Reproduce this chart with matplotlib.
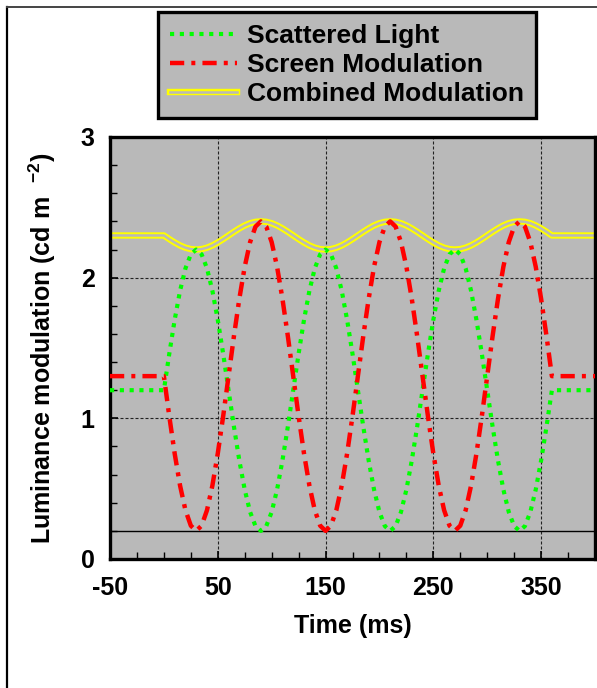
import matplotlib
matplotlib.use('Agg')
import matplotlib.pyplot as plt
import matplotlib.patheffects as pe
from matplotlib.lines import Line2D
from matplotlib.ticker import MultipleLocator

plt.rcParams['font.family'] = ['Liberation Sans', 'DejaVu Sans']
plt.rcParams['font.weight'] = 'bold'
plt.rcParams['axes.unicode_minus'] = False
plt.rcParams['mathtext.fontset'] = 'custom'
plt.rcParams['mathtext.rm'] = 'Liberation Sans:bold'
plt.rcParams['mathtext.bf'] = 'Liberation Sans:bold'
plt.rcParams['mathtext.default'] = 'rm'

# ---------- data (ms, cd m^-2) ----------
time_ms = [-50] + list(range(0, 365, 5)) + [400]

scattered = [1.2,
             1.2, 1.459, 1.7, 1.907, 2.066, 2.166, 2.2, 2.166, 2.066, 1.907, 1.7, 1.459,
             1.2, 0.941, 0.7, 0.493, 0.334, 0.234, 0.2, 0.234, 0.334, 0.493, 0.7, 0.941,
             1.2, 1.459, 1.7, 1.907, 2.066, 2.166, 2.2, 2.166, 2.066, 1.907, 1.7, 1.459,
             1.2, 0.941, 0.7, 0.493, 0.334, 0.234, 0.2, 0.234, 0.334, 0.493, 0.7, 0.941,
             1.2, 1.459, 1.7, 1.907, 2.066, 2.166, 2.2, 2.166, 2.066, 1.907, 1.7, 1.459,
             1.2, 0.941, 0.7, 0.493, 0.334, 0.234, 0.2, 0.234, 0.334, 0.493, 0.7, 0.941,
             1.2,
             1.2]

screen = [1.3,
          1.3, 1.015, 0.75, 0.522, 0.347, 0.237, 0.2, 0.237, 0.347, 0.522, 0.75, 1.015,
          1.3, 1.585, 1.85, 2.078, 2.253, 2.363, 2.4, 2.363, 2.253, 2.078, 1.85, 1.585,
          1.3, 1.015, 0.75, 0.522, 0.347, 0.237, 0.2, 0.237, 0.347, 0.522, 0.75, 1.015,
          1.3, 1.585, 1.85, 2.078, 2.253, 2.363, 2.4, 2.363, 2.253, 2.078, 1.85, 1.585,
          1.3, 1.015, 0.75, 0.522, 0.347, 0.237, 0.2, 0.237, 0.347, 0.522, 0.75, 1.015,
          1.3, 1.585, 1.85, 2.078, 2.253, 2.363, 2.4, 2.363, 2.253, 2.078, 1.85, 1.585,
          1.3,
          1.3]

combined = [2.3,
            2.3, 2.274, 2.25, 2.229, 2.213, 2.203, 2.2, 2.203, 2.213, 2.229, 2.25, 2.274,
            2.3, 2.326, 2.35, 2.371, 2.387, 2.397, 2.4, 2.397, 2.387, 2.371, 2.35, 2.326,
            2.3, 2.274, 2.25, 2.229, 2.213, 2.203, 2.2, 2.203, 2.213, 2.229, 2.25, 2.274,
            2.3, 2.326, 2.35, 2.371, 2.387, 2.397, 2.4, 2.397, 2.387, 2.371, 2.35, 2.326,
            2.3, 2.274, 2.25, 2.229, 2.213, 2.203, 2.2, 2.203, 2.213, 2.229, 2.25, 2.274,
            2.3, 2.326, 2.35, 2.371, 2.387, 2.397, 2.4, 2.397, 2.387, 2.371, 2.35, 2.326,
            2.3,
            2.3]

baseline = 0.2
x_ticks = [-50, 50, 150, 250, 350]
y_ticks = [0, 1, 2, 3]

bg = '#b9b9b9'
W, H = 597, 688

fig = plt.figure(figsize=(W / 100, H / 100), dpi=100)
ax = fig.add_axes([110 / W, 1 - 559 / H, (595 - 110) / W, (559 - 137) / H])
ax.set_facecolor(bg)

# outer frame (left + top edges)
fig.add_artist(Line2D([7 / W, 7 / W], [-0.1, 1 - 7 / H], transform=fig.transFigure,
                      color='black', lw=1.6))
fig.add_artist(Line2D([7 / W, 1.1], [1 - 7 / H, 1 - 7 / H], transform=fig.transFigure,
                      color='#444444', lw=1.4))

ax.axhline(baseline, color='black', lw=1.0, zorder=1.5)

comb_line, = ax.plot(time_ms, combined, color=bg, lw=1.8, zorder=2,
                     solid_joinstyle='round', label='Combined Modulation',
                     path_effects=[pe.Stroke(linewidth=4.6, foreground='#ffff00',
                                             joinstyle='round'), pe.Normal()])
scat_line, = ax.plot(time_ms, scattered, color='#00ff00', lw=3.0, zorder=3,
                     dashes=(1, 1.35), dash_capstyle='butt', label='Scattered Light')
scr_line, = ax.plot(time_ms, screen, color='#ff0000', lw=3.2, zorder=4,
                    dashes=(3.2, 1.6, 0.9, 1.6), dash_capstyle='butt',
                    label='Screen Modulation')

ax.set_xlim(-50, 400)
ax.set_ylim(0, 3)
ax.set_xticks(x_ticks)
ax.set_yticks(y_ticks)
ax.xaxis.set_minor_locator(MultipleLocator(25))
ax.yaxis.set_minor_locator(MultipleLocator(0.2))
ax.tick_params(which='major', direction='in', length=6, width=1.2, labelsize=18, pad=12)
ax.tick_params(which='minor', direction='in', length=5, width=1.0)
ax.tick_params(axis='y', pad=11)
ax.tick_params(top=False, right=False, which='both')
for s in ax.spines.values():
    s.set_linewidth(2.4)

ax.grid(True, which='major', color='#222222', lw=0.8, linestyle=(0, (2.7, 1.8)))
ax.set_axisbelow(True)

ax.set_xlabel('Time (ms)', fontsize=18, fontweight='bold', labelpad=10)
ax.set_ylabel('Luminance modulation (cd m  $^{-2}$)', fontsize=18, fontweight='bold',
              labelpad=16)

leg = fig.legend(handles=[scat_line, scr_line, comb_line], loc='upper left',
                 bbox_to_anchor=(158 / W, 1 - 12 / H), borderaxespad=0,
                 fontsize=19, handlelength=2.55, handletextpad=0.36,
                 borderpad=0.45, labelspacing=0.2, fancybox=False, framealpha=1,
                 facecolor=bg, edgecolor='black')
leg.get_frame().set_linewidth(2.4)

fig.savefig('out.png', dpi=100)
